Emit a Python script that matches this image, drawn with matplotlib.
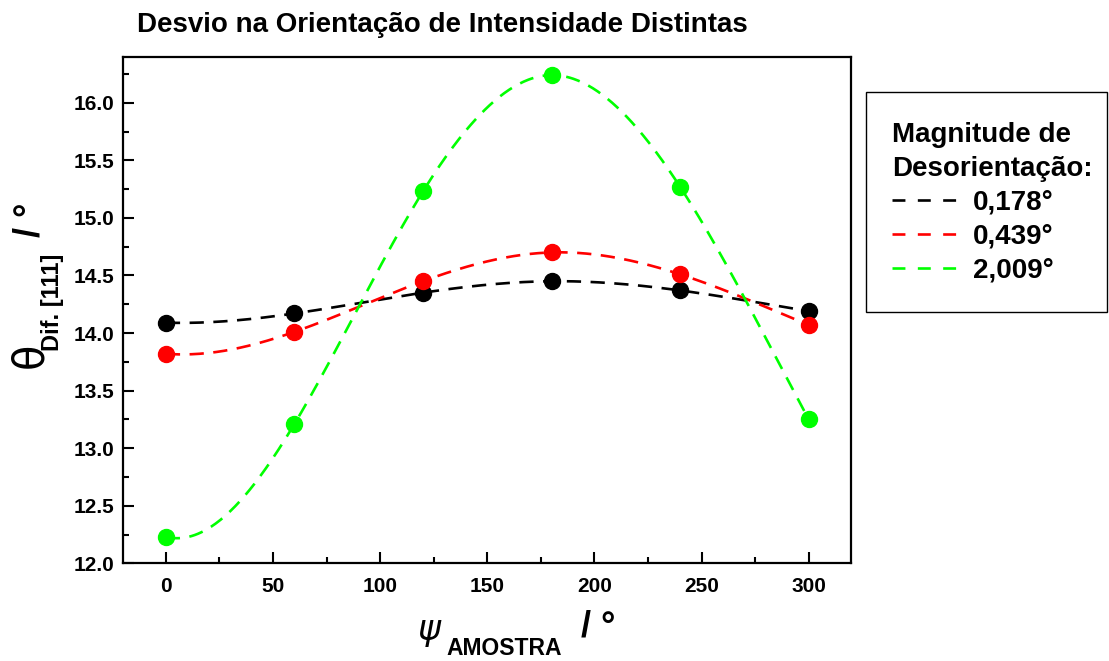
import numpy as np
import matplotlib
matplotlib.use("Agg")
import matplotlib.pyplot as plt
from matplotlib.lines import Line2D
from matplotlib.patches import Rectangle
from matplotlib.ticker import MultipleLocator, FormatStrFormatter

plt.rcParams["font.family"] = ["Liberation Sans", "DejaVu Sans"]
plt.rcParams["font.weight"] = "bold"

# ângulo da amostra (graus)
psi = [0, 60, 120, 180, 240, 300]

# theta de difração [111] para cada magnitude de desorientação
theta_0178 = [14.09, 14.17, 14.35, 14.45, 14.37, 14.19]
theta_0439 = [13.82, 14.01, 14.45, 14.70, 14.51, 14.07]
theta_2009 = [12.23, 13.21, 15.23, 16.24, 15.27, 13.25]

labels = ["0,178°", "0,439°", "2,009°"]
cores = ["#000000", "#ff0000", "#00ff00"]


def spline(x, y, xs):
    # spline cúbica "not-a-knot"
    x = np.asarray(x, float)
    y = np.asarray(y, float)
    n = len(x)
    h = np.diff(x)
    A = np.zeros((n, n))
    b = np.zeros(n)
    A[0, :3] = [h[1], -(h[0] + h[1]), h[0]]
    A[-1, -3:] = [h[-1], -(h[-2] + h[-1]), h[-2]]
    for i in range(1, n - 1):
        A[i, i - 1] = h[i - 1]
        A[i, i] = 2 * (h[i - 1] + h[i])
        A[i, i + 1] = h[i]
        b[i] = 6 * ((y[i + 1] - y[i]) / h[i] - (y[i] - y[i - 1]) / h[i - 1])
    M = np.linalg.solve(A, b)
    idx = np.clip(np.searchsorted(x, xs) - 1, 0, n - 2)
    x0, x1 = x[idx], x[idx + 1]
    hh = x1 - x0
    return (M[idx] * (x1 - xs) ** 3 / (6 * hh) + M[idx + 1] * (xs - x0) ** 3 / (6 * hh)
            + (y[idx] / hh - M[idx] * hh / 6) * (x1 - xs)
            + (y[idx + 1] / hh - M[idx + 1] * hh / 6) * (xs - x0))


W, H = 1109, 661
fig = plt.figure(figsize=(W / 100, H / 100), dpi=100)
ax = fig.add_axes([123 / W, 1 - 563.3 / H, (851.5 - 123) / W, (563.3 - 56.7) / H])

xs = np.linspace(psi[0], psi[-1], 400)
for serie, cor in zip([theta_0178, theta_0439, theta_2009], cores):
    ax.plot(xs, spline(psi, serie, xs), color=cor, lw=1.9, dashes=(5.4, 3.6))
    ax.plot(psi, serie, "o", color=cor, ms=11.5, zorder=3)

ax.set_xlim(-20, 320)
ax.set_ylim(12.0, 16.4)
ax.xaxis.set_major_locator(MultipleLocator(50))
ax.xaxis.set_minor_locator(MultipleLocator(25))
ax.yaxis.set_major_locator(MultipleLocator(0.5))
ax.yaxis.set_minor_locator(MultipleLocator(0.25))
ax.yaxis.set_major_formatter(FormatStrFormatter("%.1f"))
ax.tick_params(which="both", direction="in", width=1.5, top=False, right=False,
               labelsize=15)
ax.tick_params(which="major", length=8)
ax.tick_params(which="minor", length=4.5)
ax.tick_params(axis="x", pad=10)
ax.tick_params(axis="y", pad=6)
for s in ax.spines.values():
    s.set_linewidth(1.6)


def px(x, y):
    return x / W, 1 - y / H


# título
fig.text(*px(137, 25), "Desvio na Orientação de Intensidade Distintas",
         fontsize=20, fontweight="bold", ha="left", va="center")

# rótulo do eixo y
fig.text(*px(30, 355), "θ", fontsize=30, fontweight="normal", family="DejaVu Sans",
         rotation=90, ha="center", va="center")
fig.text(*px(53, 302), "Dif. [111]", fontsize=17, rotation=90, ha="center", va="center")
fig.text(*px(30, 220), "/ °", fontsize=26, rotation=90, ha="center", va="center")

# rótulo do eixo x
fig.text(*px(429, 630), "ψ", fontsize=25, fontweight="normal", family="DejaVu Sans",
         style="italic", ha="center", va="center")
fig.text(*px(504, 655), "AMOSTRA", fontsize=16.5, ha="center", va="baseline")
fig.text(*px(598, 627), "/ °", fontsize=26, ha="center", va="center")

# legenda
fig.patches.append(Rectangle(px(866, 312), (1107 - 866) / W, (312 - 92) / H,
                             transform=fig.transFigure, fill=False, ec="black", lw=1.0))
handles = [Line2D([], [], color=c, lw=1.9, dashes=(4.9, 4.7)) for c in cores]
leg = fig.legend(handles, labels, loc="upper left", bbox_to_anchor=px(867, 97),
                 frameon=False, fontsize=20, handlelength=2.3, handletextpad=0.6,
                 labelspacing=0.28, title="Magnitude de\nDesorientação:",
                 title_fontproperties={"size": 20, "weight": "bold"},
                 alignment="left")
leg.get_title().set_linespacing(1.4)

fig.savefig("out.png", dpi=100)
